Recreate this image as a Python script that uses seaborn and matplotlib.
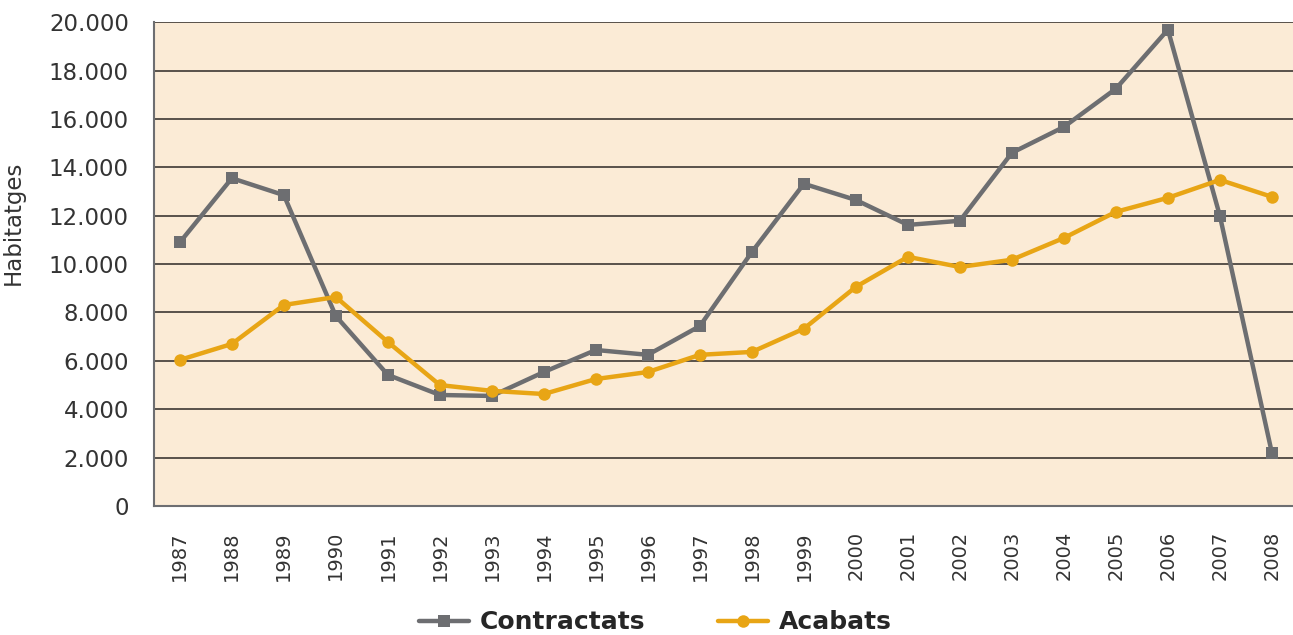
import pandas as pd
import matplotlib
matplotlib.use('Agg')
import matplotlib.pyplot as plt
import seaborn as sns
from matplotlib.ticker import FuncFormatter, MultipleLocator

# Data
years = list(range(1987, 2009))
contractats = [10900, 13550, 12850, 7850, 5420, 4590, 4550, 5540, 6450, 6250, 7440, 10500,
               13320, 12650, 11620, 11790, 14600, 15670, 17250, 19690, 11990, 2190]
acabats = [6040, 6700, 8310, 8640, 6780, 5000, 4760, 4630, 5250, 5540, 6250, 6370,
           7330, 9060, 10300, 9880, 10180, 11080, 12160, 12740, 13480, 12780]
series_names = ['Contractats', 'Acabats']

df = pd.DataFrame({'Any': years * 2,
                   'Habitatges': contractats + acabats,
                   'Serie': [series_names[0]] * len(years) + [series_names[1]] * len(years)})

sns.set_style('white')
plt.rcParams['font.family'] = ['DejaVu Sans']

fig = plt.figure(figsize=(12.93, 6.35), dpi=100)
ax = fig.add_axes([0.119, 0.2031, 0.8848, 0.762])
ax.set_facecolor('#fbebd6')

palette = {'Contractats': '#6d6e71', 'Acabats': '#e8a515'}
sns.lineplot(data=df, x='Any', y='Habitatges', hue='Serie', style='Serie',
             markers={'Contractats': 's', 'Acabats': 'o'}, dashes=False,
             palette=palette, linewidth=3.2, markeredgewidth=0, ax=ax, legend=False)
for line, ms in zip(ax.lines, [8, 9]):
    line.set_markersize(ms)

ax.set_xlim(1986.5, 2008.5)
ax.set_ylim(0, 20000)
ax.yaxis.set_major_locator(MultipleLocator(2000))
ax.yaxis.set_major_formatter(FuncFormatter(lambda v, p: f'{int(v):,}'.replace(',', '.')))
ax.set_xticks(years)
ax.set_xticklabels([str(y) for y in years], rotation=90)
ax.set_xticks([y + 0.5 for y in years[:-1]], minor=True)
ax.tick_params(axis='x', which='major', length=0, pad=18, labelsize=14, labelcolor='#333333')
ax.tick_params(axis='x', which='minor', length=7, width=1.3, direction='in', color='#6d6e71')
ax.tick_params(axis='y', length=0, pad=18, labelsize=16.5, labelcolor='#333333')

ax.grid(axis='y', color='#3d3833', linewidth=1.2)
ax.set_axisbelow(True)
for s in ['top', 'right']:
    ax.spines[s].set_visible(False)
for s in ['left', 'bottom']:
    ax.spines[s].set_color('#6d6e71')
    ax.spines[s].set_linewidth(1.5)

ax.set_xlabel('')
ax.set_ylabel('Habitatges', fontsize=16.5, color='#333333')
ax.yaxis.set_label_coords(-0.113, 0.585)

handles = [plt.Line2D([], [], color=palette[n], linewidth=3.2, marker=m, markersize=ms, markeredgewidth=0)
           for n, m, ms in zip(series_names, ['s', 'o'], [8, 9])]
fig.legend(handles, series_names, loc='center', bbox_to_anchor=(0.507, 0.02), ncol=2,
           frameon=False, handlelength=2.0, handletextpad=0.45, columnspacing=2.9,
           prop={'family': ['DejaVu Sans Condensed', 'DejaVu Sans'], 'weight': 'bold', 'size': 18})

fig.savefig('out.png', dpi=100)
